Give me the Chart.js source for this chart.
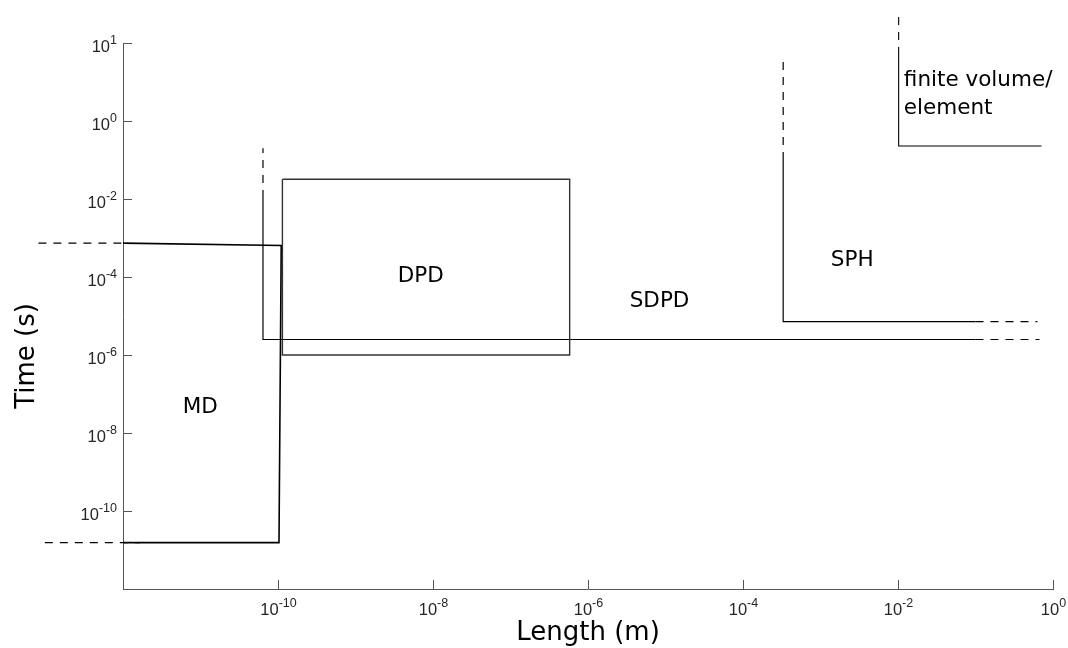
<!DOCTYPE html>
<html>
<head>
<meta charset="utf-8">
<script src="https://cdn.jsdelivr.net/npm/chart.js@4.4.1/dist/chart.umd.min.js"></script>
<style>
  html, body { margin: 0; padding: 0; background: #fff; }
  #wrap { width: 1068px; height: 648px; }
</style>
</head>
<body>
<div id="wrap"><canvas id="chart"></canvas></div>
<script>
// axis ticks (the top tick is labelled 10^1 in the original figure)
var xTickValues = [1e-10, 1e-8, 1e-6, 1e-4, 1e-2, 1];
var xTickExps = ['-10', '-8', '-6', '-4', '-2', '0'];
var yTickValues = [1e2, 1, 1e-2, 1e-4, 1e-6, 1e-8, 1e-10];
var yTickExps = ['1', '0', '-2', '-4', '-6', '-8', '-10'];

// MD region
var mdLength = [1e-12, 1.1e-10, 1.03e-10, 1e-12];
var mdTime = [7.4e-4, 6.4e-4, 1.55e-11, 1.55e-11];
var mdTopDashLength = [8.1e-14, 1e-12];
var mdTopDashTime = [7.4e-4, 7.4e-4];
var mdBotDashLength = [9.8e-14, 1.66e-12];
var mdBotDashTime = [1.55e-11, 1.55e-11];

// DPD box
var dpdLength = [1.14e-10, 5.8e-7, 5.8e-7, 1.14e-10, 1.14e-10];
var dpdTime = [3.2e-2, 3.2e-2, 1e-6, 1e-6, 3.2e-2];

// SDPD region
var sdpdLength = [6.4e-11, 6.4e-11, 0.1];
var sdpdTime = [1.06e-2, 2.5e-6, 2.5e-6];
var sdpdUpDashLength = [6.4e-11, 6.4e-11];
var sdpdUpDashTime = [1.06e-2, 0.2];
var sdpdRightDashLength = [0.1, 0.67];
var sdpdRightDashTime = [2.5e-6, 2.5e-6];

// SPH region
var sphLength = [3.3e-4, 3.3e-4, 0.1];
var sphTime = [0.1, 7.2e-6, 7.2e-6];
var sphUpDashLength = [3.3e-4, 3.3e-4];
var sphUpDashTime = [0.1, 41];
var sphRightDashLength = [0.1, 0.63];
var sphRightDashTime = [7.2e-6, 7.2e-6];

// finite volume / element region
var fvLength = [1.02e-2, 1.02e-2, 0.71];
var fvTime = [49, 0.229, 0.229];
var fvUpDashLength = [1.02e-2, 1.02e-2];
var fvUpDashTime = [49, 620];

// region names
var regionNames = ['MD', 'DPD', 'SDPD', 'SPH', 'finite volume/', 'element'];
var regionLength = [5.9e-12, 3.5e-9, 3.45e-6, 1.36e-3, 1.19e-2, 1.19e-2];
var regionTime = [4.4e-8, 1.06e-4, 2.3e-5, 2.7e-4, 11.2, 2.15];

function pts(xs, ys) {
    return xs.map(function (x, i) { return { x: x, y: ys[i] }; });
}

function line(xs, ys, color, width, dashed) {
    return {
        data: pts(xs, ys),
        showLine: true,
        borderColor: color,
        borderWidth: width,
        borderDash: dashed ? [8, 7] : [],
        pointRadius: 0,
        fill: false,
        clip: false
    };
}

var axisColor = '#555';
var tickFont = '"Liberation Sans", Arial, sans-serif';
var textFont = '"DejaVu Sans", Verdana, sans-serif';

var decorations = {
    id: 'decorations',
    afterDatasetsDraw: function (chart) {
        var ctx = chart.ctx;
        var xs = chart.scales.x, ys = chart.scales.y;
        var area = chart.chartArea;
        ctx.save();
        ctx.strokeStyle = axisColor;
        ctx.lineWidth = 1;
        ctx.fillStyle = '#262626';

        // x ticks + labels
        xTickValues.forEach(function (v, i) {
            var px = Math.round(xs.getPixelForValue(v)) + 0.5;
            ctx.beginPath();
            ctx.moveTo(px, area.bottom);
            ctx.lineTo(px, area.bottom - 9);
            ctx.stroke();
            ctx.font = '16.5px ' + tickFont;
            var w1 = ctx.measureText('10').width;
            ctx.font = '12.5px ' + tickFont;
            var w2 = ctx.measureText(xTickExps[i]).width;
            var left = px - (w1 + w2) / 2;
            ctx.textAlign = 'left';
            ctx.textBaseline = 'alphabetic';
            ctx.font = '16.5px ' + tickFont;
            ctx.fillText('10', left, area.bottom + 26);
            ctx.font = '12.5px ' + tickFont;
            ctx.fillText(xTickExps[i], left + w1, area.bottom + 18);
        });

        // y ticks + labels
        yTickValues.forEach(function (v, i) {
            var py = Math.round(ys.getPixelForValue(v)) + 0.5;
            ctx.beginPath();
            ctx.moveTo(area.left, py);
            ctx.lineTo(area.left + 9, py);
            ctx.stroke();
            ctx.font = '12.5px ' + tickFont;
            var w2 = ctx.measureText(yTickExps[i]).width;
            ctx.textAlign = 'right';
            ctx.fillText(yTickExps[i], area.left - 6, py);
            ctx.font = '16.5px ' + tickFont;
            ctx.fillText('10', area.left - 6 - w2, py + 8);
        });

        // region names
        ctx.fillStyle = '#000';
        ctx.font = '21.5px ' + textFont;
        ctx.textAlign = 'left';
        ctx.textBaseline = 'middle';
        regionNames.forEach(function (name, i) {
            ctx.fillText(name, xs.getPixelForValue(regionLength[i]), ys.getPixelForValue(regionTime[i]));
        });

        // axis titles
        ctx.font = '26px ' + textFont;
        ctx.textAlign = 'center';
        ctx.textBaseline = 'middle';
        ctx.fillText('Length (m)', (area.left + area.right) / 2, 633);
        ctx.translate(27, 356);
        ctx.rotate(-Math.PI / 2);
        ctx.fillText('Time (s)', 0, 0);
        ctx.restore();
    }
};

var ctx = document.getElementById('chart').getContext('2d');
var chart = new Chart(ctx, {
    type: 'scatter',
    data: {
        datasets: [
            line(mdLength, mdTime, '#000', 1.6, false),
            line(mdTopDashLength, mdTopDashTime, '#000', 1.2, true),
            line(mdBotDashLength, mdBotDashTime, '#000', 1.2, true),
            line(dpdLength, dpdTime, '#333', 1.4, false),
            line(sdpdLength, sdpdTime, '#000', 1.2, false),
            line(sdpdUpDashLength, sdpdUpDashTime, '#000', 1.2, true),
            line(sdpdRightDashLength, sdpdRightDashTime, '#000', 1.2, true),
            line(sphLength, sphTime, '#000', 1.2, false),
            line(sphUpDashLength, sphUpDashTime, '#000', 1.2, true),
            line(sphRightDashLength, sphRightDashTime, '#000', 1.2, true),
            line(fvLength, fvTime, '#000', 1.1, false),
            line(fvUpDashLength, fvUpDashTime, '#000', 1.1, true)
        ]
    },
    options: {
        responsive: true,
        maintainAspectRatio: false,
        animation: false,
        layout: { padding: { top: 43, right: 15, left: 0, bottom: 0 } },
        scales: {
            x: {
                type: 'logarithmic',
                min: 1e-12,
                max: 1,
                afterFit: function (s) { s.height = 59; },
                ticks: { display: false },
                grid: { display: false },
                border: { display: true, color: axisColor, width: 1 }
            },
            y: {
                type: 'logarithmic',
                min: 1e-12,
                max: 1e2,
                afterFit: function (s) { s.width = 123; },
                ticks: { display: false },
                grid: { display: false },
                border: { display: true, color: axisColor, width: 1 }
            }
        },
        plugins: {
            legend: { display: false },
            tooltip: { enabled: false }
        }
    },
    plugins: [decorations]
});
</script>
</body>
</html>
